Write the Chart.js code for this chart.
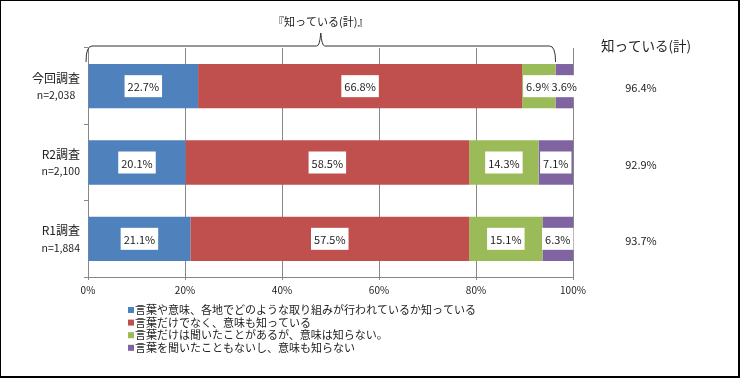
<!DOCTYPE html>
<html lang="ja">
<head>
<meta charset="utf-8">
<script src="https://cdn.jsdelivr.net/npm/chart.js@4.4.1/dist/chart.umd.min.js"></script>
<style>
  html, body { margin: 0; padding: 0; background: #fff; }
  canvas { display: block; }
</style>
</head>
<body>
<canvas id="chart" width="740" height="378"></canvas>
<script>
// survey rows
const surveys = ['今回調査', 'R2調査', 'R1調査'];
const sampleSizes = ['n=2,038', 'n=2,100', 'n=1,884'];

// answer categories (legend)
const answers = [
    '言葉や意味、各地でどのような取り組みが行われているか知っている',
    '言葉だけでなく、意味も知っている',
    '言葉だけは聞いたことがあるが、意味は知らない。',
    '言葉を聞いたこともないし、意味も知らない'
];
const colors = ['#4F81BD', '#C0504D', '#9BBB59', '#8064A2'];

// shares in %, one array per answer, ordered like surveys
const knowsAll = [22.7, 20.1, 21.1];
const knowsMeaning = [66.8, 58.5, 57.5];
const heardOnly = [6.9, 14.3, 15.1];
const neverHeard = [3.6, 7.1, 6.3];

// 知っている(計)
const knownTotal = [96.4, 92.9, 93.7];

const xTicks = [0, 20, 40, 60, 80, 100];

const FONT = '"Noto Sans CJK JP", "Noto Sans", sans-serif';
const seriesValues = [knowsAll, knowsMeaning, heardOnly, neverHeard];

const extras = {
    id: 'extras',
    afterDatasetsDraw(chart) {
        const ctx = chart.ctx;
        const x = chart.scales.x;
        const y = chart.scales.y;
        ctx.save();

        // value labels in white boxes
        ctx.font = '11px ' + FONT;
        ctx.textAlign = 'center';
        ctx.textBaseline = 'middle';
        chart.data.datasets.forEach((ds, di) => {
            const meta = chart.getDatasetMeta(di);
            meta.data.forEach((bar, i) => {
                const txt = ds.data[i].toFixed(1) + '%';
                const cx = (bar.x + bar.base) / 2;
                const cy = bar.y;
                const w = ctx.measureText(txt).width + 6;
                ctx.fillStyle = '#fff';
                ctx.fillRect(cx - w / 2, cy - 11, w, 22);
                ctx.fillStyle = '#222';
                ctx.fillText(txt, cx, cy + 1);
            });
        });

        // category labels, two lines centred in a block ending at x=80
        ctx.textAlign = 'center';
        ctx.fillStyle = '#222';
        surveys.forEach((s, i) => {
            const cy = y.getPixelForValue(i);
            ctx.font = '12px ' + FONT;
            const w1 = ctx.measureText(s).width;
            ctx.font = '10.5px ' + FONT;
            const w2 = ctx.measureText(sampleSizes[i]).width;
            const cx = 80 - Math.max(w1, w2) / 2;
            ctx.font = '12px ' + FONT;
            ctx.fillText(s, cx, cy - 8);
            ctx.font = '10.5px ' + FONT;
            ctx.fillText(sampleSizes[i], cx, cy + 9);
        });

        // right column 知っている(計)
        ctx.font = '13.5px ' + FONT;
        ctx.fillText('知っている(計)', 646, 46);
        ctx.font = '11px ' + FONT;
        knownTotal.forEach((v, i) => {
            ctx.fillText(v.toFixed(1) + '%', 641, y.getPixelForValue(i) + 2);
        });

        // brace over 『知っている(計)』
        const x0 = x.getPixelForValue(0) - 2;
        const x1 = x.getPixelForValue(knownTotal[0]);
        const xm = (x0 + x1) / 2;
        const top = 46;
        ctx.strokeStyle = '#333';
        ctx.lineWidth = 1;
        ctx.beginPath();
        ctx.moveTo(x0, 62);
        ctx.quadraticCurveTo(x0, top, x0 + 6, top);
        ctx.lineTo(xm - 4, top);
        ctx.quadraticCurveTo(xm - 1, top, xm, 33);
        ctx.quadraticCurveTo(xm + 1, top, xm + 4, top);
        ctx.lineTo(x1 - 6, top);
        ctx.quadraticCurveTo(x1, top, x1, 62);
        ctx.stroke();
        ctx.font = '11px ' + FONT;
        ctx.fillText('『知っている(計)』', xm, 22);

        // legend
        ctx.textAlign = 'left';
        ctx.font = '11px ' + FONT;
        answers.forEach((a, i) => {
            const ly = 310 + i * 12.6;
            ctx.fillStyle = colors[i];
            ctx.fillRect(128, ly - 3, 6, 6);
            ctx.fillStyle = '#222';
            ctx.fillText(a, 135, ly);
        });

        // frame
        ctx.fillStyle = '#000';
        ctx.fillRect(0, 0, 740, 1);
        ctx.fillRect(0, 0, 1, 378);
        ctx.fillRect(738, 0, 2, 378);
        ctx.fillRect(0, 376, 740, 2);
        ctx.restore();
    }
};

new Chart(document.getElementById('chart'), {
    type: 'bar',
    data: {
        labels: surveys,
        datasets: answers.map((a, i) => ({
            label: a,
            data: seriesValues[i],
            backgroundColor: colors[i],
            borderWidth: 0,
            barPercentage: 0.58,
            categoryPercentage: 1
        }))
    },
    options: {
        indexAxis: 'y',
        responsive: false,
        animation: false,
        layout: { padding: { left: 0, right: 167, top: 48, bottom: 76 } },
        plugins: {
            legend: { display: false },
            tooltip: { enabled: false }
        },
        scales: {
            x: {
                stacked: true,
                min: 0,
                max: 100,
                afterBuildTicks: s => { s.ticks = xTicks.map(v => ({ value: v })); },
                afterFit: s => { s.height = 25; },
                grid: { color: '#888', tickLength: 3 },
                border: { color: '#888' },
                ticks: {
                    callback: v => v + '%',
                    color: '#222',
                    font: { family: FONT, size: 10 },
                    padding: 4
                }
            },
            y: {
                stacked: true,
                afterFit: s => { s.width = 88; },
                grid: { drawOnChartArea: false, color: '#888', tickLength: 4 },
                border: { color: '#888' },
                ticks: { display: false }
            }
        }
    },
    plugins: [extras]
});
</script>
</body>
</html>
